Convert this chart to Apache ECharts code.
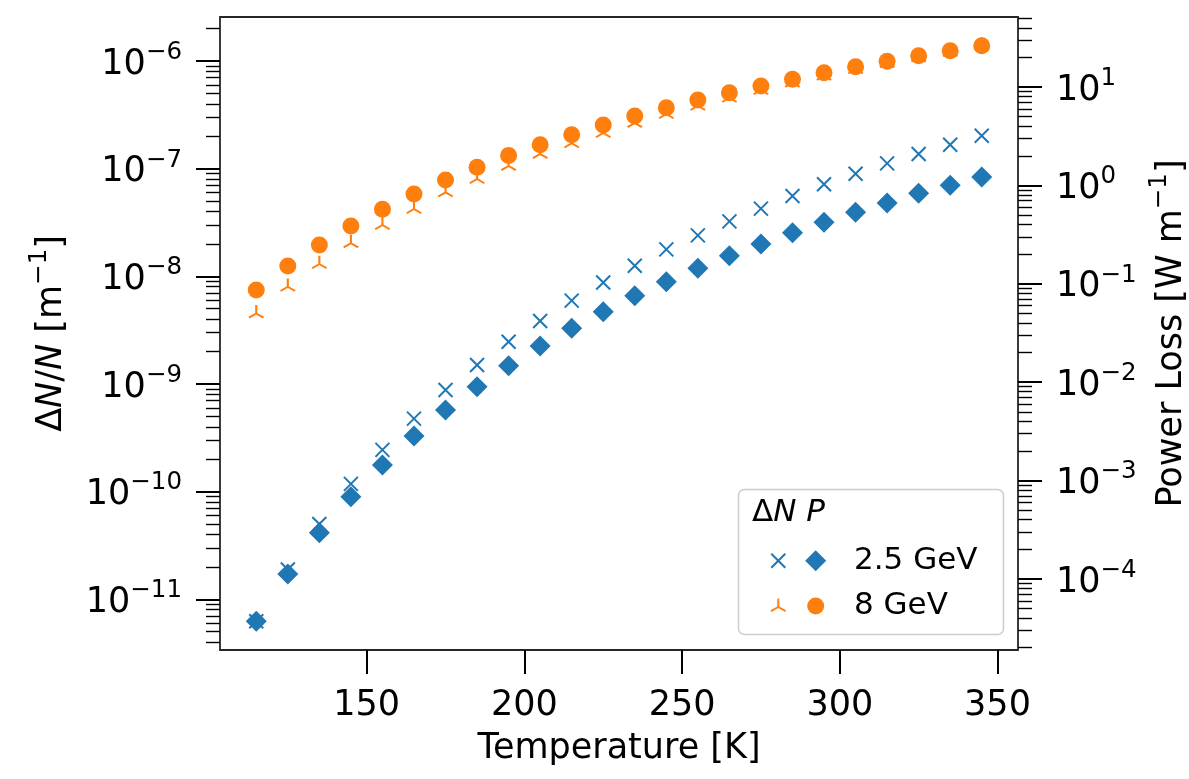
<!DOCTYPE html>
<html>
<head>
<meta charset="utf-8">
<script src="https://cdn.jsdelivr.net/npm/echarts@6/dist/echarts.min.js"></script>
<style>
  html, body { margin: 0; padding: 0; background: #ffffff; }
  #chart { width: 1189px; height: 779px; }
</style>
</head>
<body>
<div id="chart"></div>
<script>
// Temperature sweep (K)
const temperatures = [115, 125, 135, 145, 155, 165, 175, 185, 195, 205, 215, 225,
                      235, 245, 255, 265, 275, 285, 295, 305, 315, 325, 335, 345];

// Relative loss ΔN/N per metre
const dnRatio25 = [6.25e-12, 1.89e-11, 5.0e-11, 1.18e-10, 2.44e-10, 4.76e-10, 8.79e-10, 1.50e-9,
                   2.47e-9, 3.85e-9, 5.94e-9, 8.76e-9, 1.255e-8, 1.78e-8, 2.40e-8, 3.24e-8,
                   4.25e-8, 5.57e-8, 7.16e-8, 8.98e-8, 1.12e-7, 1.37e-7, 1.67e-7, 2.02e-7];
const dnRatio8  = [4.52e-9, 7.99e-9, 1.30e-8, 2.03e-8, 2.99e-8, 4.21e-8, 6.02e-8, 8.0e-8,
                   1.06e-7, 1.37e-7, 1.72e-7, 2.14e-7, 2.66e-7, 3.22e-7, 3.84e-7, 4.56e-7,
                   5.38e-7, 6.29e-7, 7.30e-7, 8.39e-7, 9.52e-7, 1.08e-6, 1.21e-6, 1.385e-6];

// Power loss (W/m)
const power25 = [3.72e-5, 1.124e-4, 2.955e-4, 6.86e-4, 1.44e-3, 2.84e-3, 5.22e-3, 9.0e-3,
                 1.472e-2, 2.333e-2, 3.53e-2, 5.21e-2, 7.57e-2, 0.105, 0.1437, 0.193,
                 0.2538, 0.3307, 0.4217, 0.533, 0.6625, 0.831, 1.002, 1.217];
const power8  = [0.0865, 0.152, 0.248, 0.387, 0.571, 0.818, 1.135, 1.527,
                 2.01, 2.593, 3.275, 4.11, 5.07, 6.16, 7.38, 8.75,
                 10.24, 11.97, 13.97, 16.08, 18.25, 20.8, 23.38, 26.24];

const beamLabels = ['2.5 GeV', '8 GeV'];
const xTickValues = [150, 200, 250, 300, 350];

const FONT = 'DejaVu Sans';
const BLUE = '#1f77b4';
const ORANGE = '#ff7f0e';
const INK = '#000000';

// autoscale with 5% padding (log space for the y axes)
function logPadRange(groups) {
  const logs = [].concat(...groups).map(Math.log10);
  const lo = Math.min(...logs), hi = Math.max(...logs);
  const pad = 0.05 * (hi - lo);
  return [lo - pad, hi + pad];
}
const [leftLo, leftHi] = logPadRange([dnRatio25, dnRatio8]);
const [rightLo, rightHi] = logPadRange([power25, power8]);
const xSpan = temperatures[temperatures.length - 1] - temperatures[0];
const xMin = temperatures[0] - 0.05 * xSpan;
const xMax = temperatures[temperatures.length - 1] + 0.05 * xSpan;

function decades(lo, hi) {
  const out = [];
  for (let e = Math.ceil(lo); e <= Math.floor(hi); e++) out.push(e);
  return out;
}
function subDecades(lo, hi) {
  const out = [];
  for (let e = Math.floor(lo); e <= Math.ceil(hi); e++) {
    for (let k = 2; k <= 9; k++) {
      const v = e + Math.log10(k);
      if (v >= lo && v <= hi) out.push(v);
    }
  }
  return out;
}

const powerLabel = v => {
  const e = Math.round(v);
  return '{b|10}{s|' + (e < 0 ? '\u2212' : '') + Math.abs(e) + '}';
};
const tickRich = {
  b: { fontFamily: FONT, fontSize: 35, lineHeight: 42, verticalAlign: 'bottom', color: INK },
  s: { fontFamily: FONT, fontSize: 24.5, verticalAlign: 'top', color: INK }
};
const nameRich = {
  d: { fontFamily: FONT, fontSize: 35, lineHeight: 42, verticalAlign: 'bottom', color: INK },
  i: { fontFamily: FONT, fontSize: 35, lineHeight: 42, verticalAlign: 'bottom', fontStyle: 'italic', color: INK },
  s: { fontFamily: FONT, fontSize: 24.5, verticalAlign: 'top', color: INK }
};

const MAJOR = { length: 24, lineStyle: { color: INK, width: 2 } };
const MINOR = { length: 14, lineStyle: { color: INK, width: 1.4 } };

// decade-scale tick axis drawn over a hidden log axis with the same extent
function decadeAxis(position, lo, hi, name, nameGap) {
  return {
    type: 'value', position, min: lo, max: hi,
    axisLine: { show: false, onZero: false }, splitLine: { show: false },
    axisTick: Object.assign({ show: true, customValues: decades(lo, hi) }, MAJOR),
    axisLabel: { show: true, customValues: decades(lo, hi), formatter: powerLabel,
                 margin: 38, rich: tickRich },
    name, nameLocation: 'middle', nameGap, nameTextStyle: { rich: nameRich }
  };
}
function subDecadeAxis(position, lo, hi) {
  return {
    type: 'value', position, min: lo, max: hi,
    axisLine: { show: false, onZero: false }, splitLine: { show: false },
    axisTick: Object.assign({ show: true, customValues: subDecades(lo, hi) }, MINOR),
    axisLabel: { show: false }
  };
}

const crossPath = 'path://M0,0L10,10M0,10L10,0';
const triUpPath = 'path://M0,0L0,-10M0,0L-8.66,5M0,0L8.66,5';

const pairs = ys => temperatures.map((t, i) => [t, ys[i]]);

// legend geometry
const lg = { x: 738.5, y: 489.5, w: 265, h: 145, mx1: 778.3, mx2: 815.7, tx: 854, ty: 513, r1: 560.7, r2: 606 };
function crossAt(cx, cy, h, color) {
  return [
    { type: 'line', z: 100, shape: { x1: cx - h, y1: cy - h, x2: cx + h, y2: cy + h }, style: { stroke: color, lineWidth: 2 } },
    { type: 'line', z: 100, shape: { x1: cx - h, y1: cy + h, x2: cx + h, y2: cy - h }, style: { stroke: color, lineWidth: 2 } }
  ];
}
function triAt(cx, cy, r, color) {
  const dx = 0.866 * r, dy = 0.5 * r;
  return [
    { type: 'line', z: 100, shape: { x1: cx, y1: cy, x2: cx, y2: cy - r }, style: { stroke: color, lineWidth: 2 } },
    { type: 'line', z: 100, shape: { x1: cx, y1: cy, x2: cx - dx, y2: cy + dy }, style: { stroke: color, lineWidth: 2 } },
    { type: 'line', z: 100, shape: { x1: cx, y1: cy, x2: cx + dx, y2: cy + dy }, style: { stroke: color, lineWidth: 2 } }
  ];
}
const legendRich = {
  d: { fontFamily: FONT, fontSize: 31, fill: INK },
  i: { fontFamily: FONT, fontSize: 31, fontStyle: 'italic', fill: INK }
};

const chart = echarts.init(document.getElementById('chart'), null, { renderer: 'canvas' });
chart.setOption({
  animation: false,
  backgroundColor: '#ffffff',
  textStyle: { fontFamily: FONT },
  grid: {
    left: 220, top: 17, width: 798, height: 633,
    show: true, borderColor: '#262626', borderWidth: 1.8, backgroundColor: 'transparent',
    containLabel: false, outerBoundsMode: 'none'
  },
  xAxis: {
    type: 'value', min: xMin, max: xMax,
    axisLine: { show: false, onZero: false }, splitLine: { show: false },
    axisTick: Object.assign({ show: true, customValues: xTickValues }, MAJOR),
    axisLabel: { show: true, customValues: xTickValues, fontFamily: FONT, fontSize: 35, color: INK, margin: 38 },
    name: 'Temperature [K]', nameLocation: 'middle', nameGap: 81,
    nameTextStyle: { fontFamily: FONT, fontSize: 35, color: INK }
  },
  yAxis: [
    { type: 'log', logBase: 10, min: Math.pow(10, leftLo), max: Math.pow(10, leftHi), show: false },
    { type: 'log', logBase: 10, min: Math.pow(10, rightLo), max: Math.pow(10, rightHi), show: false },
    decadeAxis('left', leftLo, leftHi, '{d|\u0394}{i|N}{d|/}{i|N}{d| [m}{s|\u22121}{d|]}', 151),
    subDecadeAxis('left', leftLo, leftHi),
    decadeAxis('right', rightLo, rightHi, '{d|Power Loss [W m}{s|\u22121}{d|]}', 126),
    subDecadeAxis('right', rightLo, rightHi)
  ],
  series: [
    { type: 'scatter', name: '\u0394N ' + beamLabels[0], yAxisIndex: 0, data: pairs(dnRatio25),
      symbol: crossPath, symbolSize: 14,
      itemStyle: { color: BLUE, borderColor: BLUE, borderWidth: 2, opacity: 1 } },
    { type: 'scatter', name: '\u0394N ' + beamLabels[1], yAxisIndex: 0, data: pairs(dnRatio8),
      symbol: triUpPath, symbolSize: [14.5, 12.6], symbolOffset: [0, -2.1],
      itemStyle: { color: ORANGE, borderColor: ORANGE, borderWidth: 2, opacity: 1 } },
    { type: 'scatter', name: 'P ' + beamLabels[0], yAxisIndex: 1, data: pairs(power25),
      symbol: 'diamond', symbolSize: 21, itemStyle: { color: BLUE, opacity: 1 } },
    { type: 'scatter', name: 'P ' + beamLabels[1], yAxisIndex: 1, data: pairs(power8),
      symbol: 'circle', symbolSize: 17, itemStyle: { color: ORANGE, opacity: 1 } }
  ],
  graphic: {
    elements: [
      { type: 'rect', z: 99, shape: { x: lg.x, y: lg.y, width: lg.w, height: lg.h, r: 6 },
        style: { fill: 'rgba(255,255,255,0.8)', stroke: '#cccccc', lineWidth: 1.5 } },
      { type: 'text', z: 100, x: 752, y: lg.ty,
        style: { text: '{d|\u0394}{i|N}{d| }{i|P}', rich: legendRich, align: 'left', verticalAlign: 'middle' } },
      ...crossAt(lg.mx1, lg.r1, 7, BLUE),
      { type: 'polygon', z: 100,
        shape: { points: [[lg.mx2, lg.r1 - 10.5], [lg.mx2 + 10.5, lg.r1], [lg.mx2, lg.r1 + 10.5], [lg.mx2 - 10.5, lg.r1]] },
        style: { fill: BLUE } },
      { type: 'text', z: 100, x: lg.tx, y: lg.r1,
        style: { text: beamLabels[0], fontFamily: FONT, fontSize: 31, fill: INK, align: 'left', verticalAlign: 'middle' } },
      ...triAt(lg.mx1, lg.r2 + 1, 8.4, ORANGE),
      { type: 'circle', z: 100, shape: { cx: lg.mx2, cy: lg.r2, r: 8.5 }, style: { fill: ORANGE } },
      { type: 'text', z: 100, x: lg.tx, y: lg.r2,
        style: { text: beamLabels[1], fontFamily: FONT, fontSize: 31, fill: INK, align: 'left', verticalAlign: 'middle' } }
    ]
  }
});
</script>
</body>
</html>
